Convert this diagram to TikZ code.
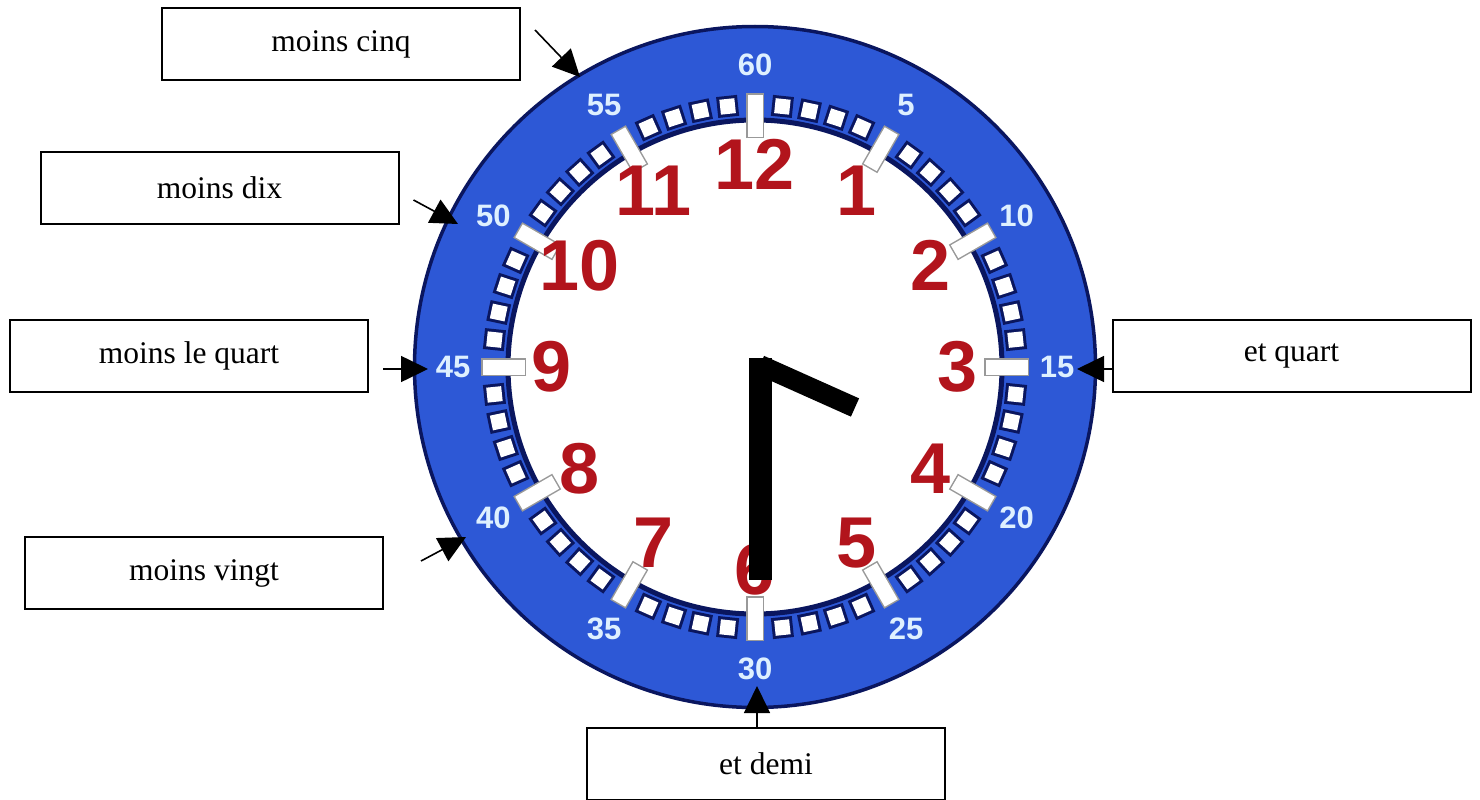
\documentclass[tikz,border=0pt]{standalone}
\usepackage{fontspec}
\setmainfont{Liberation Serif}
\newfontfamily\clocksans{Liberation Sans}
\usepackage{tikz}
\usetikzlibrary{arrows.meta, positioning}
\definecolor{ringblue}{RGB}{45,88,214}
\definecolor{ringnavy}{RGB}{10,22,95}
\definecolor{numblue}{RGB}{222,240,255}
\definecolor{hourred}{RGB}{178,20,28}
\tikzstyle{box} = [rectangle, draw=black, line width=2pt, minimum width=358pt, minimum height=72pt, text centered, font=\fontsize{31.5}{36}\selectfont]
\tikzstyle{arrow} = [line width=1.6pt, -{Triangle[length=27pt,width=26pt]}]
\tikzstyle{hournum} = [text=hourred, inner sep=0pt, font=\clocksans\bfseries\fontsize{72}{72}\selectfont]
\tikzstyle{minnum} = [text=numblue, inner sep=0pt, font=\clocksans\bfseries\fontsize{31}{31}\selectfont]

\begin{document}
\begin{tikzpicture}[x=1pt, y=-1pt]
\useasboundingbox (0,0) rectangle (1480,800);

\coordinate (O) at (755,367);

% clock face
\begin{scope}[shift={(O)}]
\fill[ringblue] (0,0) circle (340.5);
\draw[ringnavy, line width=3.5pt] (0,0) circle (340.5);
\filldraw[fill=white, draw=ringnavy, line width=5pt] (0,0) circle (247);
% minute squares
\foreach \h in {0,...,11}
  \foreach \k in {1,2,3,4} {
    \draw[ringnavy, line width=21pt] ({\h*30+\k*6-90}:251.5) -- ({\h*30+\k*6-90}:272.5);
    \draw[white, line width=15pt] ({\h*30+\k*6-90}:254.5) -- ({\h*30+\k*6-90}:269.5);
  }
% five minute marks
\foreach \h in {0,...,11} {
  \draw[gray!80, line width=18pt] ({\h*30-90}:229) -- ({\h*30-90}:274);
  \draw[white, line width=15pt] ({\h*30-90}:230.5) -- ({\h*30-90}:272.5);
}
\foreach \m in {5,10,...,60}
  \node[minnum] (m\m) at ({\m*6-90}:302) {\m};
\foreach \n in {1,...,12}
  \node[hournum] (h\n) at ({\n*30-90}:203) {\n};
\end{scope}

% hands
\draw[line width=20pt] (760,365) -- (855,407.5);
\draw[line width=23pt] (760,358) -- (760,580);

% labels
\node (cinq) [box] at (341,44) {moins cinq};
\node (dix) [box] at (219.5,188) {moins dix};
\node (lequart) [box] at (189,356) {moins le quart};
\node (vingt) [box] at (204,573) {moins vingt};
\node (etquart) [box] at (1291.5,356) {et quart};
\node (etdemi) [box] at (766,764) {et demi};

\coordinate (cinqtip) at (580,77);
\coordinate (dixtip) at (458,224);
\coordinate (lequarttip) at (428,369);
\coordinate (vingttip) at (466,537);
\coordinate (etquarttip) at (1077,369);
\coordinate (etdemitip) at (757,686);

\draw [arrow] ([xshift=14pt,yshift=14pt]cinq.east) -- (cinqtip);
\draw [arrow] ([xshift=14pt,yshift=-12pt]dix.east) -- (dixtip);
\draw [arrow] ([xshift=14pt,yshift=-13pt]lequart.east) -- (lequarttip);
\draw [arrow] ([xshift=37pt,yshift=12pt]vingt.east) -- (vingttip);
\draw [arrow] ([yshift=-13pt]etquart.west) -- (etquarttip);
\draw [arrow] ([xshift=-9pt]etdemi.north) -- (etdemitip);

\end{tikzpicture}
\end{document}
